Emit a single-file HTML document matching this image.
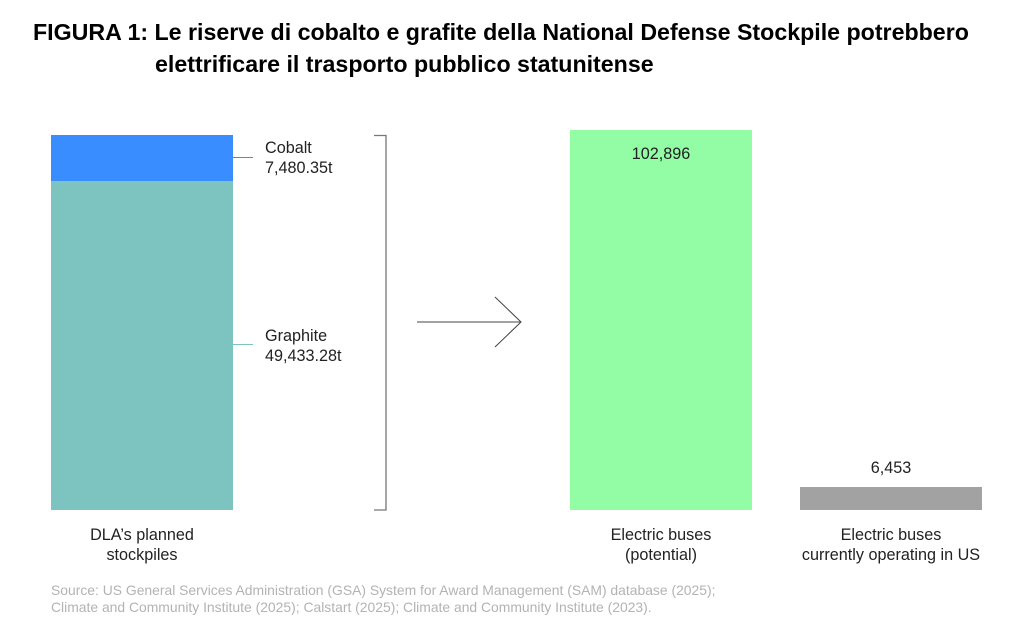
<!DOCTYPE html>
<html><head><style>
body{margin:0;width:1029px;height:638px;background:#fff;position:relative;font-family:"Liberation Sans",sans-serif;overflow:hidden}
.t{position:absolute;font-weight:bold;font-size:23.2px;color:#000;white-space:nowrap}
.l{position:absolute;font-size:16.2px;color:#222;white-space:nowrap;line-height:20px}
.c{text-align:center}
.b{position:absolute}
</style></head><body>
<div class="t" style="left:33px;top:19px">FIGURA 1: Le riserve di cobalto e grafite della National Defense Stockpile potrebbero</div>
<div class="t" style="left:155px;top:51px">elettrificare il trasporto pubblico statunitense</div>
<div class="b" style="left:51px;top:135px;width:182px;height:46px;background:#3a8dff"></div>
<div class="b" style="left:51px;top:181px;width:182px;height:329px;background:#7dc3c0"></div>
<div class="b" style="left:233px;top:157px;width:20px;height:1px;background:#3a8dff"></div>
<div class="b" style="left:233px;top:344px;width:20px;height:1px;background:#7dc3c0"></div>
<div class="l" style="left:265px;top:138px">Cobalt<br>7,480.35t</div>
<div class="l" style="left:265px;top:326px">Graphite<br>49,433.28t</div>
<svg class="b" style="left:0;top:0" width="1029" height="638">
<path d="M374 135.5H386V510H374" fill="none" stroke="#777" stroke-width="1.3"/>
<path d="M417 322H521M495 297L521 322L495 347" fill="none" stroke="#444" stroke-width="1"/>
</svg>
<div class="b" style="left:570px;top:130px;width:182px;height:380px;background:#93fda5"></div>
<div class="l c" style="left:570px;top:144px;width:182px">102,896</div>
<div class="b" style="left:800px;top:487px;width:182px;height:23px;background:#a2a2a2"></div>
<div class="l c" style="left:800px;top:458px;width:182px">6,453</div>
<div class="l c" style="left:41px;top:525px;width:202px">DLA’s planned<br>stockpiles</div>
<div class="l c" style="left:560px;top:525px;width:202px">Electric buses<br>(potential)</div>
<div class="l c" style="left:771px;top:525px;width:240px">Electric buses<br>currently operating in US</div>
<div class="l" style="left:51px;top:582px;font-size:13.9px;color:#b3b3b3;line-height:17px">Source: US General Services Administration (GSA) System for Award Management (SAM) database (2025);<br>Climate and Community Institute (2025); Calstart (2025); Climate and Community Institute (2023).</div>
</body></html>
